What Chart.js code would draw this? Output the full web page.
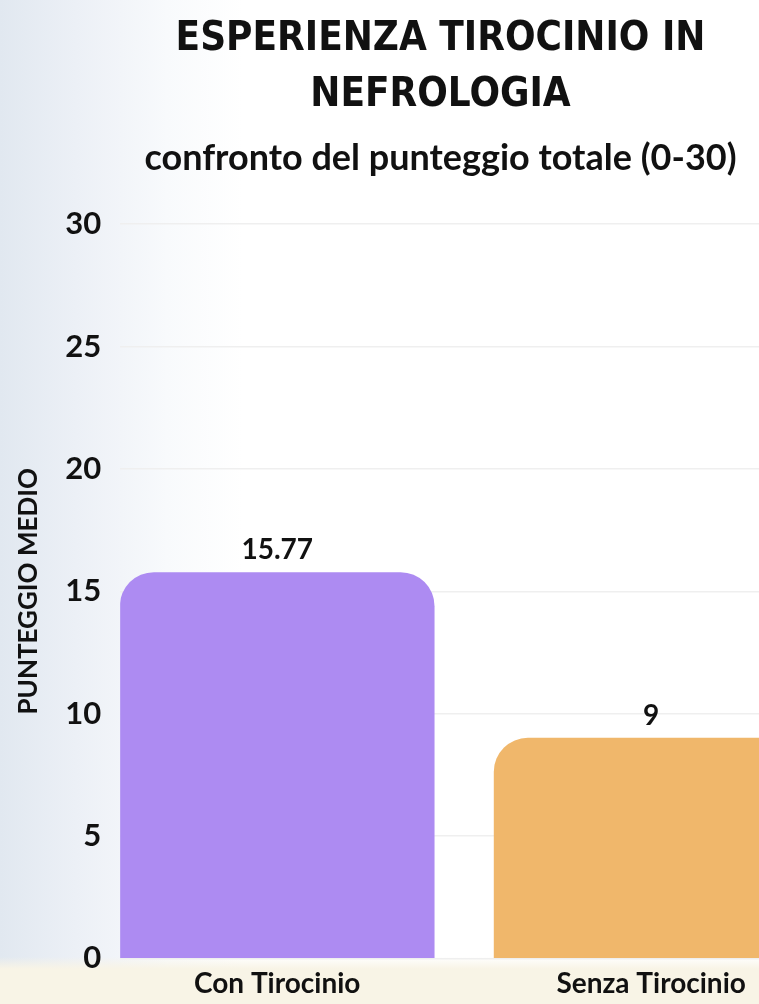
<!DOCTYPE html>
<html>
<head>
<meta charset="utf-8">
<script src="https://cdn.jsdelivr.net/npm/chart.js@4.4.1/dist/chart.umd.min.js"></script>
<style>
  html, body { margin: 0; padding: 0; overflow: hidden; }
  body {
    width: 759px; height: 1004px;
    background:
      linear-gradient(to bottom, rgba(255,255,255,0) 95.3%, #f8f4e6 96.5%),
      linear-gradient(to right, #e1e8f0 0%, #ecf0f6 10%, #f8fafc 22%, #ffffff 32%);
  }
  #wrap { position: relative; width: 924px; height: 1010px; }
</style>
</head>
<body>
<div id="wrap"><canvas id="myChart"></canvas></div>
<script>
const categorie = ['Con Tirocinio', 'Senza Tirocinio'];
const valori = [15.77, 9];
const colori = ['#ad8bf2', '#f0b76b'];
const tickMin = 0;
const tickMax = 30;
const tickStep = 5;

const titleFont = "'DejaVu Sans Condensed', 'DejaVu Sans', sans-serif";
const textFont = "Lato, Roboto, sans-serif";

// scrive il valore sopra ogni barra
const etichetteValori = {
  id: 'etichetteValori',
  afterDatasetsDraw(chart) {
    const ctx = chart.ctx;
    const meta = chart.getDatasetMeta(0);
    ctx.save();
    ctx.font = 'bold 28px ' + textFont;
    ctx.fillStyle = '#111111';
    ctx.textAlign = 'center';
    ctx.textBaseline = 'bottom';
    meta.data.forEach((bar, i) => {
      ctx.fillText(String(valori[i]), bar.x, bar.y - 8);
    });
    ctx.restore();
  }
};

var ctx = document.getElementById('myChart').getContext('2d');
var chart = new Chart(ctx, {
  type: 'bar',
  data: {
    datasets: [{
      label: 'Punteggio medio',
      data: valori.map((v, i) => ({ x: i, y: v })),
      backgroundColor: colori,
      borderWidth: 0,
      borderRadius: { topLeft: 34, topRight: 34 },
      borderSkipped: 'start',
      barThickness: 314
    }]
  },
  options: {
    responsive: true,
    maintainAspectRatio: false,
    animation: false,
    layout: {
      padding: { top: 12, right: 56, bottom: 0, left: 13 }
    },
    plugins: {
      legend: { display: false },
      tooltip: { enabled: false },
      title: {
        display: true,
        text: ['ESPERIENZA TIROCINIO IN', 'NEFROLOGIA'],
        color: '#111111',
        font: { family: titleFont, size: 40, weight: 'bold', lineHeight: 1.4 },
        padding: { top: 0, bottom: 13 }
      },
      subtitle: {
        display: true,
        text: 'confronto del punteggio totale (0-30)',
        color: '#111111',
        font: { family: textFont, size: 36, weight: 'bold', lineHeight: 1.2 },
        padding: { top: 0, bottom: 44 }
      }
    },
    scales: {
      x: {
        type: 'linear',
        min: -0.42,
        max: 1.58,
        offset: false,
        grid: { display: false, drawTicks: false },
        border: { display: false },
        afterBuildTicks: (scale) => {
          scale.ticks = categorie.map((c, i) => ({ value: i }));
        },
        ticks: {
          color: '#111111',
          font: { family: textFont, size: 28, weight: 'bold' },
          padding: 9,
          callback: (v) => categorie[v]
        }
      },
      y: {
        min: tickMin,
        max: tickMax,
        grid: { color: '#efefef', lineWidth: 1.5, drawTicks: false },
        border: { display: false },
        ticks: {
          stepSize: tickStep,
          color: '#111111',
          font: { family: textFont, size: 31, weight: 'bold' },
          padding: 19
        },
        title: {
          display: true,
          text: 'PUNTEGGIO MEDIO',
          color: '#111111',
          font: { family: textFont, size: 26, weight: 'bold' },
          padding: { top: 0, bottom: 2 }
        }
      }
    }
  },
  plugins: [etichetteValori]
});
</script>
</body>
</html>
